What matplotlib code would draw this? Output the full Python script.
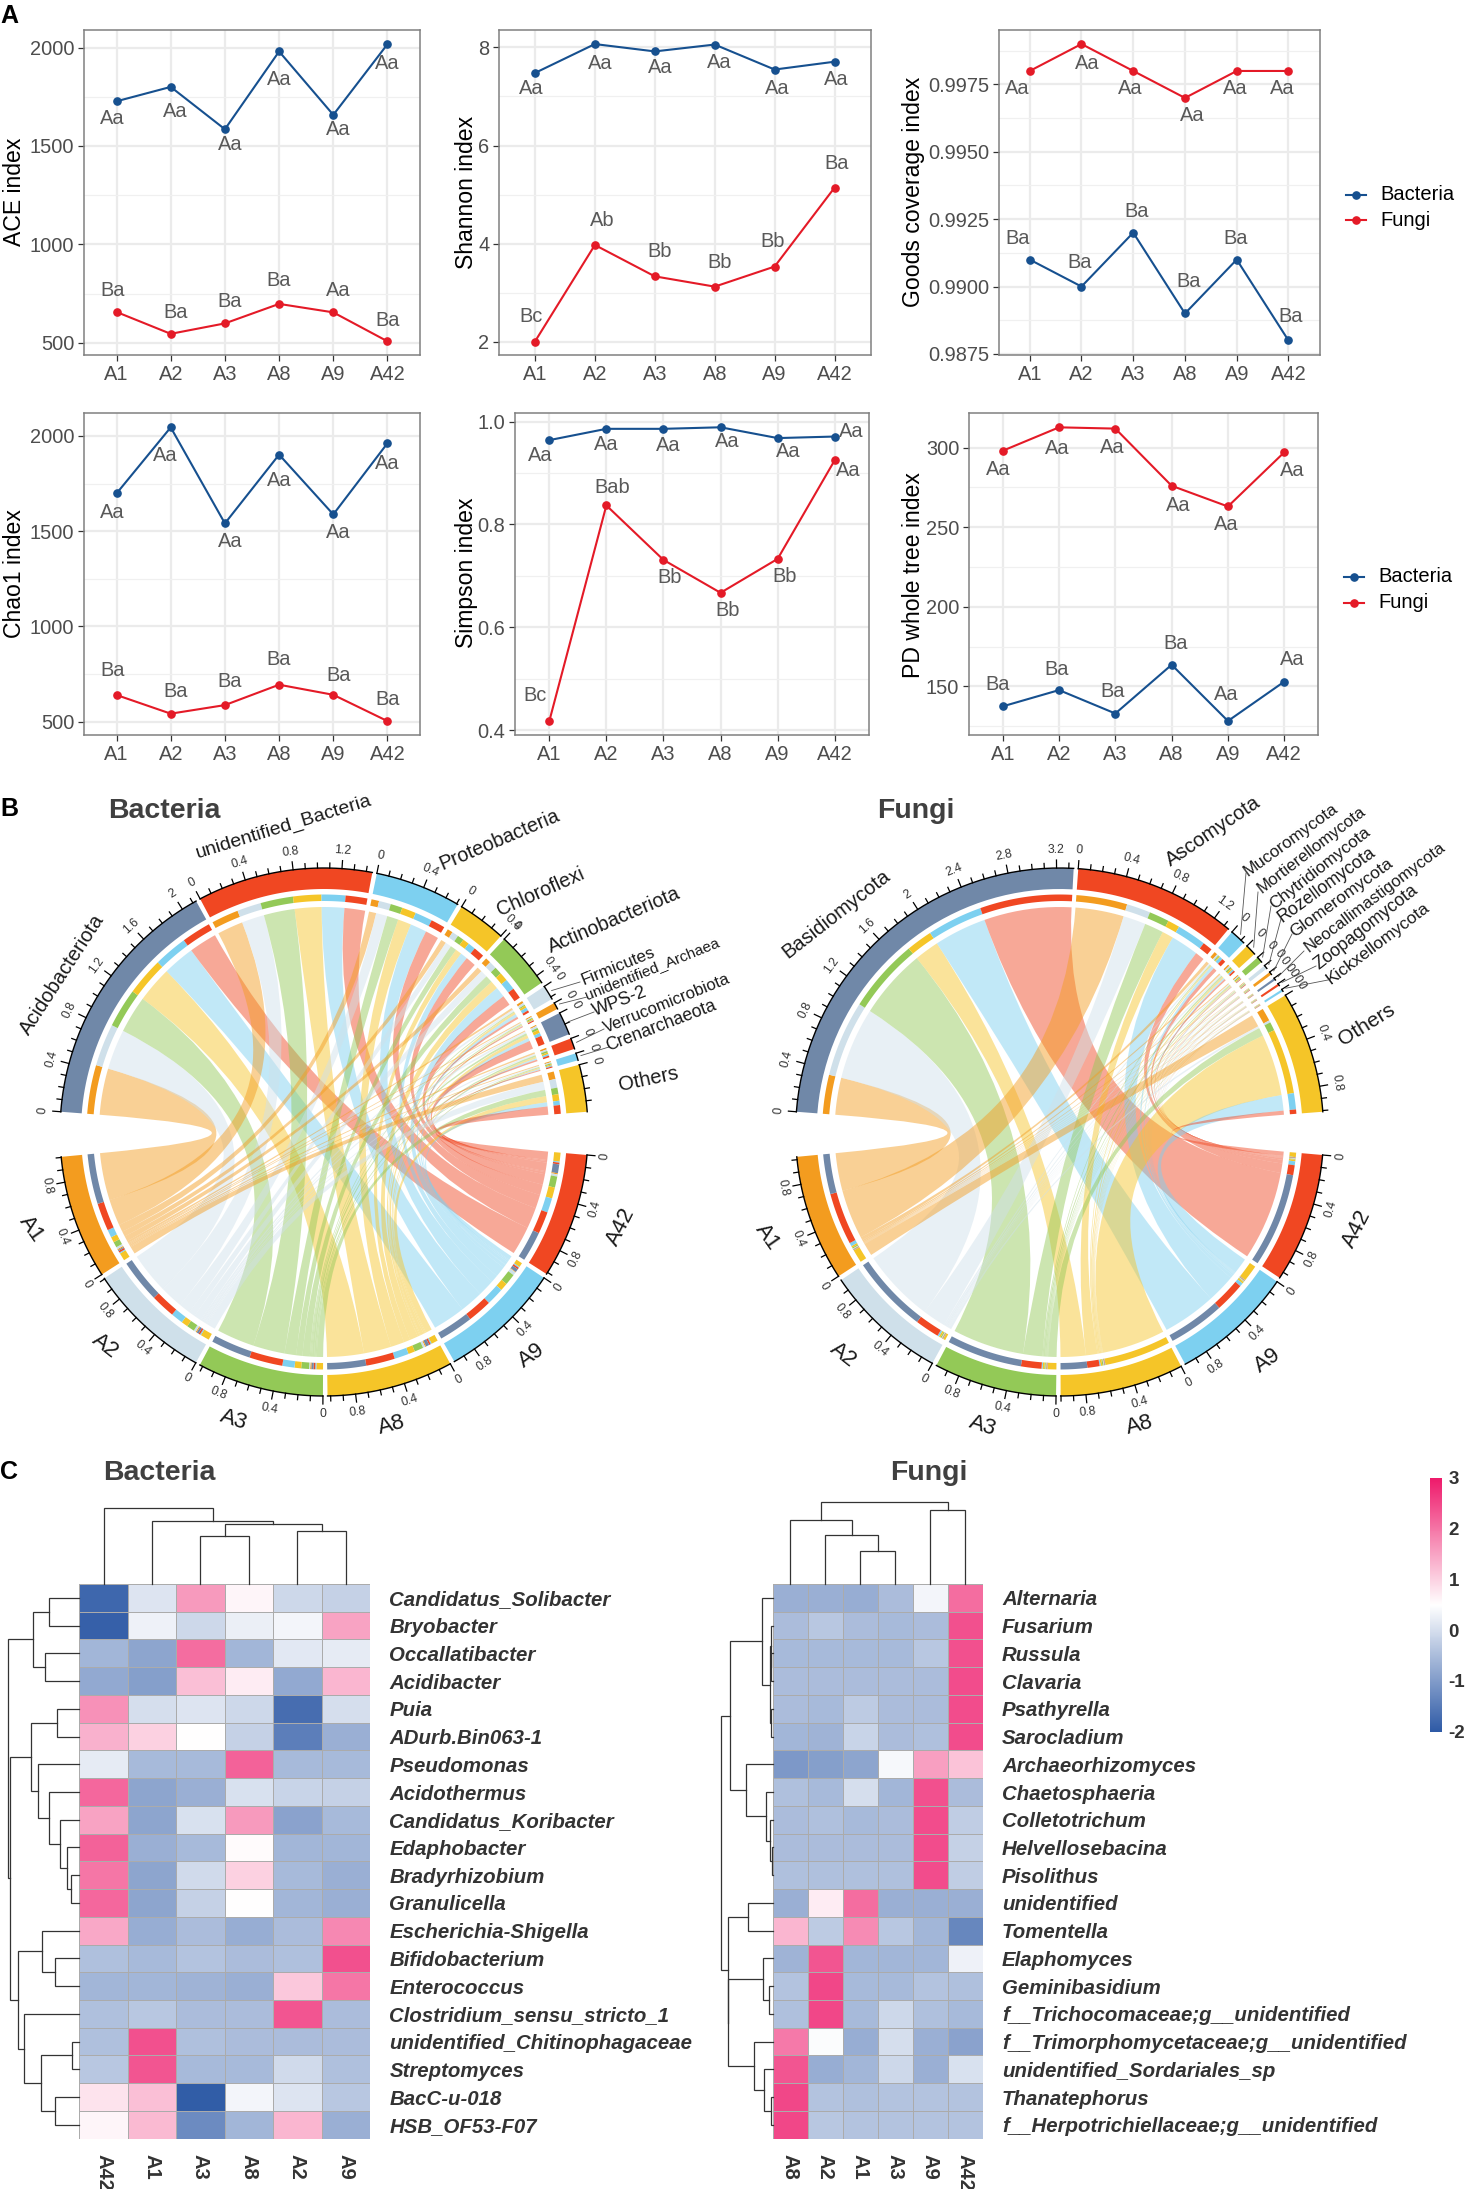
import numpy as np
import matplotlib
matplotlib.use("Agg")
import matplotlib.pyplot as plt
from matplotlib.path import Path
from matplotlib.patches import PathPatch, Polygon
from matplotlib.colors import LinearSegmentedColormap, Normalize
from matplotlib.cm import ScalarMappable

plt.rcParams['font.family'] = ['Liberation Sans', 'DejaVu Sans']
plt.rcParams['axes.unicode_minus'] = False

W, H = 1471, 2189

# ---- panel A data
groups = ['A1', 'A2', 'A3', 'A8', 'A9', 'A42']

ace_bac = [1727, 1800, 1585, 1980, 1658, 2017]
ace_fun = [657, 546, 599, 698, 655, 508]
shannon_bac = [7.48, 8.07, 7.92, 8.06, 7.55, 7.71]
shannon_fun = [2.0, 3.97, 3.33, 3.12, 3.53, 5.14]
goods_bac = [0.991, 0.990, 0.992, 0.989, 0.991, 0.988]
goods_fun = [0.998, 0.999, 0.998, 0.997, 0.998, 0.998]
chao_bac = [1698, 2045, 1541, 1902, 1588, 1962]
chao_fun = [640, 542, 587, 694, 641, 503]
simpson_bac = [0.964, 0.986, 0.986, 0.989, 0.968, 0.971]
simpson_fun = [0.417, 0.837, 0.731, 0.667, 0.733, 0.925]
pd_bac = [137.5, 147.7, 133, 163.6, 128.3, 153]
pd_fun = [298, 312.7, 311.9, 276, 263, 297]

# significance letters
ace_bac_txt = ['Aa'] * 6
ace_fun_txt = ['Ba', 'Ba', 'Ba', 'Ba', 'Aa', 'Ba']
shannon_bac_txt = ['Aa'] * 6
shannon_fun_txt = ['Bc', 'Ab', 'Bb', 'Bb', 'Bb', 'Ba']
goods_bac_txt = ['Ba'] * 6
goods_fun_txt = ['Aa'] * 6
chao_bac_txt = ['Aa'] * 6
chao_fun_txt = ['Ba'] * 6
simpson_bac_txt = ['Aa'] * 6
simpson_fun_txt = ['Bc', 'Bab', 'Bb', 'Bb', 'Bb', 'Aa']
pd_bac_txt = ['Ba', 'Ba', 'Ba', 'Ba', 'Aa', 'Aa']
pd_fun_txt = ['Aa'] * 6

# where each letter sits relative to its point, in pixels (dx, dy down)
ace_bac_off = [(-4, 17), (5, 25), (5, 15), (0, 28), (5, 15), (0, 19)]
ace_fun_off = [(-4, -21), (5, -21), (5, -22), (0, -23), (5, -22), (0, -21)]
shannon_bac_off = [(-4, 16), (5, 19), (5, 16), (5, 18), (3, 19), (2, 18)]
shannon_fun_off = [(-4, -25), (7, -24), (5, -25), (5, -24), (-2, -25), (2, -24)]
goods_bac_off = [(-12, -21), (-2, -24), (3, -21), (4, -32), (-1, -21), (2, -24)]
goods_fun_off = [(-12, 18), (6, 19), (-3, 18), (7, 18), (-1, 18), (-6, 18)]
chao_bac_off = [(-4, 19), (-5, 28), (5, 18), (0, 26), (5, 18), (0, 20)]
chao_fun_off = [(-4, -25), (5, -22), (5, -24), (0, -25), (5, -19), (0, -22)]
simpson_bac_off = [(-9, 15), (0, 16), (5, 17), (7, 14), (11, 13), (17, -5)]
simpson_fun_off = [(-14, -26), (6, -18), (6, 18), (7, 18), (7, 18), (14, 10)]
pd_bac_off = [(-5, -22), (-2, -21), (-3, -22), (4, -21), (-2, -26), (8, -22)]
pd_fun_off = [(-5, 19), (-2, 21), (-3, 19), (7, 20), (-2, 18), (8, 18)]

# ---- panel B data, rows are phyla, columns A1 A2 A3 A8 A9 A42
bac_phyla = ['Acidobacteriota', 'unidentified_Bacteria', 'Proteobacteria', 'Chloroflexi',
             'Actinobacteriota', 'Firmicutes', 'unidentified_Archaea', 'WPS-2',
             'Verrucomicrobiota', 'Crenarchaeota', 'Others']
bac_matrix = [
    [.45, .39, .36, .35, .31, .27],
    [.25, .22, .30, .26, .22, .20],
    [.07, .11, .11, .13, .16, .13],
    [.05, .06, .06, .06, .07, .10],
    [.05, .07, .07, .08, .10, .10],
    [.02, .02, .01, .02, .03, .02],
    [.01, .01, .01, .01, .005, .01],
    [.01, .02, .02, .03, .03, .08],
    [.015, .015, .015, .015, .015, .015],
    [.01, .01, .01, .01, .01, .01],
    [.07, .08, .06, .06, .04, .08],
]
fun_phyla = ['Basidiomycota', 'Ascomycota', 'Mucoromycota', 'Mortierellomycota', 'Chytridiomycota',
             'Rozellomycota', 'Glomeromycota', 'Neocallimastigomycota', 'Zoopagomycota',
             'Kickxellomycota', 'Others']
fun_matrix = [
    [.36, .70, .68, .24, .51, .85],
    [.47, .22, .185, .11, .27, .09],
    [.03, .015, .01, .01, .03, .035],
    [.015, .015, .015, .015, .015, .015],
    [.01, .01, .01, .01, .005, .005],
    [.005, .005, .005, .005, .005, .005],
    [.004, .004, .004, .004, .004, .004],
    [.003, .003, .003, .003, .003, .003],
    [.003, .003, .003, .003, .003, .003],
    [.003, .003, .003, .003, .003, .003],
    [.12, .02, .08, .60, .15, .04],
]
sample_cols = ['#F39C1F', '#CFE0EA', '#93C957', '#F5C528', '#7DD0F0', '#F04722']
bac_phyla_cols = ['#7088A8', '#F04722', '#7DD0F0', '#F5C528', '#93C957', '#CFE0EA',
                  '#F39C1F', '#7088A8', '#F04722', '#7DD0F0', '#F5C528']
fun_phyla_cols = ['#7088A8', '#F04722', '#7DD0F0', '#F5C528', '#93C957', '#CFE0EA',
                  '#F39C1F', '#7088A8', '#F04722', '#7DD0F0', '#F5C528']

# label layout for the chords: x, y, rotation, font size, leader end (or None)
bac_labels = [
    (62, 975, 57, 14.5, None), (284, 827, 17, 14, None), (499, 840, 23, 14.2, None),
    (541, 892, 24, 14.2, None), (614, 920, 23, 14.2, None),
    (618, 966, 22, 12.2, (580, 982)), (652, 969, 22, 11, (587, 997)),
    (620, 1002, 21, 13, (594, 1012)), (667, 1003, 22, 12, (604, 1029)),
    (661, 1026, 21, 12.7, (609, 1047)), (649, 1079, 12, 14.5, None),
]
fun_labels = [
    (836, 914, 38, 14.5, None), (1213, 831, 34, 14.5, None),
    (1291, 840, 36, 12.3, (1246, 873)), (1312, 850, 37.5, 12, (1258, 892)),
    (1320, 868, 38, 12.3, (1271, 906)), (1327, 885, 36, 12.8, (1281, 919)),
    (1341, 898, 36, 12.5, (1292, 934)), (1375, 897, 37, 12, (1304, 951)),
    (1366, 927, 38, 12.7, (1316, 966)), (1378, 943, 37, 12.5, (1328, 980)),
    (1367, 1025, 32, 15, None),
]
bac_sample_labels = [(31, 1229, -55), (105, 1346, -38), (234, 1420, -18),
                     (392, 1425, 15), (532, 1356, 36), (621, 1227, 63)]
fun_sample_labels = [(767, 1237, -55), (843, 1355, -38), (983, 1426, -18),
                     (1140, 1425, 15), (1268, 1361, 36), (1357, 1229, 63)]

# ---- panel C data
bac_cols = ['A42', 'A1', 'A3', 'A8', 'A2', 'A9']
bac_rows = ['Candidatus_Solibacter', 'Bryobacter', 'Occallatibacter', 'Acidibacter', 'Puia',
            'ADurb.Bin063-1', 'Pseudomonas', 'Acidothermus', 'Candidatus_Koribacter', 'Edaphobacter',
            'Bradyrhizobium', 'Granulicella', 'Escherichia-Shigella', 'Bifidobacterium', 'Enterococcus',
            'Clostridium_sensu_stricto_1', 'unidentified_Chitinophagaceae', 'Streptomyces',
            'BacC-u-018', 'HSB_OF53-F07']
bac_heat = [
    [-1.8, 0.1, 1.6, 0.6, -0.1, -0.2],
    [-1.9, 0.3, -0.1, 0.25, 0.35, 1.5],
    [-0.6, -0.85, 2.1, -0.6, 0.15, 0.2],
    [-0.8, -0.95, 1.2, 0.7, -0.8, 1.3],
    [1.7, 0.0, 0.1, -0.1, -1.7, 0.0],
    [1.35, 1.0, 0.5, -0.2, -1.45, -0.7],
    [0.2, -0.55, -0.55, 2.2, -0.55, -0.55],
    [2.15, -0.85, -0.7, 0.05, -0.15, -0.2],
    [1.5, -0.85, 0.05, 1.6, -0.9, -0.55],
    [2.2, -0.7, -0.55, 0.55, -0.6, -0.6],
    [2.0, -0.85, -0.05, 1.0, -0.55, -0.7],
    [2.15, -0.85, -0.2, 0.5, -0.6, -0.7],
    [1.45, -0.75, -0.5, -0.75, -0.5, 1.8],
    [-0.45, -0.55, -0.4, -0.5, -0.45, 2.4],
    [-0.6, -0.6, -0.65, -0.7, 1.1, 2.0],
    [-0.45, -0.35, -0.5, -0.5, 2.35, -0.5],
    [-0.45, 2.4, -0.45, -0.5, -0.5, -0.5],
    [-0.35, 2.35, -0.55, -0.55, -0.05, -0.45],
    [0.8, 1.2, -1.95, 0.35, 0.1, -0.35],
    [0.6, 1.25, -1.25, -0.6, 1.3, -0.7],
]
fun_cols = ['A8', 'A2', 'A1', 'A3', 'A9', 'A42']
fun_rows = ['Alternaria', 'Fusarium', 'Russula', 'Clavaria', 'Psathyrella', 'Sarocladium',
            'Archaeorhizomyces', 'Chaetosphaeria', 'Colletotrichum', 'Helvellosebacina', 'Pisolithus',
            'unidentified', 'Tomentella', 'Elaphomyces', 'Geminibasidium',
            'f__Trichocomaceae;g__unidentified', 'f__Trimorphomycetaceae;g__unidentified',
            'unidentified_Sordariales_sp', 'Thanatephorus', 'f__Herpotrichiellaceae;g__unidentified']
fun_heat = [
    [-0.7, -0.7, -0.75, -0.5, 0.35, 2.1],
    [-0.5, -0.35, -0.5, -0.55, -0.5, 2.4],
    [-0.55, -0.55, -0.55, -0.55, -0.35, 2.4],
    [-0.5, -0.5, -0.5, -0.5, -0.5, 2.45],
    [-0.5, -0.55, -0.3, -0.5, -0.5, 2.45],
    [-0.6, -0.65, -0.15, -0.5, -0.45, 2.45],
    [-1.05, -0.95, -0.85, 0.4, 1.55, 1.15],
    [-0.45, -0.55, 0.0, -0.6, 2.4, -0.5],
    [-0.5, -0.45, -0.55, -0.5, 2.45, -0.25],
    [-0.5, -0.5, -0.5, -0.5, 2.45, -0.2],
    [-0.45, -0.45, -0.45, -0.45, 2.45, -0.25],
    [-0.7, 0.7, 2.1, -0.7, -0.7, -0.7],
    [1.3, -0.3, 1.75, -0.35, -0.6, -1.3],
    [-0.65, 2.35, -0.6, -0.6, -0.6, 0.3],
    [-0.4, 2.5, -0.55, -0.55, -0.4, -0.45],
    [-0.45, 2.5, -0.55, -0.1, -0.45, -0.55],
    [1.95, 0.45, -0.75, 0.0, -0.7, -0.9],
    [2.35, -0.75, -0.6, -0.1, -0.7, 0.05],
    [2.5, -0.4, -0.45, -0.4, -0.4, -0.4],
    [2.5, -0.35, -0.4, -0.4, -0.4, -0.4],
]

# dendrograms: (height, left, right), an int is a leaf
bac_col_tree = (76.4, 0, (63.2, 1, (59.9, (47.6, 2, 3), (52.8, 4, 5))))
bac_row_tree = (71.6,
                (46.4, (30.3, 0, 1), (34.9, 2, 3)),
                (69.3,
                 (48.7, (22, 4, 5), (41.8, 6, (30.3, 7, (19.7, 8, (12.9, 9, (8.3, 10, 11)))))),
                 (61,
                  (37.2, 12, (24.3, 13, 14)),
                  (55.6, 15, (38.1, (7.3, 16, 17), (24.3, 18, 19))))))
fun_col_tree = (82.5, (63.7, 0, (49, 1, (33, 2, 3))), (73.6, 4, 5))
fun_row_tree = (51.7,
                (42.6,
                 (11.5, 0, (3.5, (2.5, 1, (1.8, 2, 3)), (2.4, 4, 5))),
                 (27.3, 6, (6.7, 7, (2.9, 8, (1.5, 9, 10))))),
                (45.5,
                 (25.3, 11, 12),
                 (45, (10, 13, (3.8, 14, 15)), (18.7, 16, (8.6, 17, (2, 18, 19))))))

BLUE = '#16508F'
RED = '#E41A27'
GREY = '#4D4D4D'

fig = plt.figure(figsize=(W / 100, H / 100), dpi=100)


def axes_px(x0, y0, x1, y1, **kw):
    # y0 is the top edge, measured from the top of the picture
    return fig.add_axes([x0 / W, 1 - y1 / H, (x1 - x0) / W, (y1 - y0) / H], **kw)


# overlay in picture pixels, for the chords and loose text
ov = axes_px(0, 0, W, H)
ov.set_xlim(0, W)
ov.set_ylim(H, 0)
ov.axis('off')
ov.patch.set_alpha(0)


def line_panel(box, bac, fun, bac_txt, fun_txt, bac_off, fun_off, ylim, ticks, minor, fmt, ylabel, label_xy):
    ax = axes_px(*box)
    x = np.arange(6)
    ax.set_xlim(-0.6, 5.6)
    ax.set_ylim(*ylim)
    ax.set_yticks(ticks)
    ax.set_yticks(minor, minor=True)
    ax.yaxis.set_major_formatter(fmt)
    ax.set_xticks(x)
    ax.set_xticklabels(groups)
    ax.grid(True, which='major', color='#EBEBEB', lw=1.6)
    ax.grid(True, which='minor', axis='y', color='#F0F0F0', lw=0.9)
    ax.set_axisbelow(True)
    ax.tick_params(axis='both', which='major', labelsize=14.4, labelcolor=GREY, color='#333333',
                   length=4, width=0.9, pad=3)
    ax.tick_params(axis='y', which='minor', length=0)
    for s in ax.spines.values():
        s.set_color('#808080')
        s.set_linewidth(1.1)
    ax.plot(x, bac, color=BLUE, lw=1.5, marker='o', ms=5.2, label='Bacteria')
    ax.plot(x, fun, color=RED, lw=1.5, marker='o', ms=5.2, label='Fungi')
    for vals, txt, off in ((bac, bac_txt, bac_off), (fun, fun_txt, fun_off)):
        for i in range(6):
            ax.annotate(txt[i], (i, vals[i]), xytext=(off[i][0] * 0.72, -off[i][1] * 0.72),
                        textcoords='offset points', ha='center', va='center',
                        fontsize=14.4, color='#595959', annotation_clip=False)
    ov.text(label_xy[0], label_xy[1], ylabel, rotation=90, ha='center', va='center',
            fontsize=16.6, color='black')
    return ax


f_int = plt.FuncFormatter(lambda v, p: '%d' % v)
line_panel((84, 30, 420, 355), ace_bac, ace_fun, ace_bac_txt, ace_fun_txt, ace_bac_off, ace_fun_off,
           (438.5, 2089), [500, 1000, 1500, 2000], [750, 1250, 1750], f_int, 'ACE index', (15, 192))
line_panel((499, 30, 870.5, 355), shannon_bac, shannon_fun, shannon_bac_txt, shannon_fun_txt,
           shannon_bac_off, shannon_fun_off,
           (1.725, 8.357), [2, 4, 6, 8], [3, 5, 7], f_int, 'Shannon index', (467, 192))
line_panel((998.7, 30, 1319.5, 355), goods_bac, goods_fun, goods_bac_txt, goods_fun_txt,
           goods_bac_off, goods_fun_off,
           (0.98746, 0.99952), [0.9875, 0.99, 0.9925, 0.995, 0.9975],
           [0.98875, 0.99125, 0.99375, 0.99625, 0.99875],
           plt.FuncFormatter(lambda v, p: '%.4f' % v), 'Goods coverage index', (914, 192))
line_panel((84, 413, 420, 735), chao_bac, chao_fun, chao_bac_txt, chao_fun_txt, chao_bac_off, chao_fun_off,
           (430, 2120.5), [500, 1000, 1500, 2000], [750, 1250, 1750], f_int, 'Chao1 index', (15, 574))
line_panel((515, 413, 869, 735), simpson_bac, simpson_fun, simpson_bac_txt, simpson_fun_txt,
           simpson_bac_off, simpson_fun_off,
           (0.3903, 1.0168), [0.4, 0.6, 0.8, 1.0], [0.5, 0.7, 0.9],
           plt.FuncFormatter(lambda v, p: '%.1f' % v), 'Simpson index', (467, 573))
line_panel((969, 413, 1318, 735), pd_bac, pd_fun, pd_bac_txt, pd_fun_txt, pd_bac_off, pd_fun_off,
           (119.5, 321.7), [150, 200, 250, 300], [125, 175, 225, 275], f_int, 'PD whole tree index', (914, 575))

# hand drawn legends beside the right hand panels
for ly, lx in ((194.6, 1356), (576.7, 1354.5)):
    for k, (name, col) in enumerate((('Bacteria', BLUE), ('Fungi', RED))):
        yy = ly + k * 25.8
        ov.plot([lx - 10, lx + 10], [yy, yy], color=col, lw=1.5, marker='', zorder=3)
        ov.plot([lx], [yy], color=col, marker='o', ms=5.2, zorder=3)
        ov.text(lx + 24, yy, name, fontsize=14.5, va='center', ha='left', color='black')


def pol(cx, cy, r, a):
    t = np.radians(a)
    return cx + r * np.cos(t), cy - r * np.sin(t)


def ring(cx, cy, r0, r1, a0, a1, col, z=3):
    ang = np.linspace(a0, a1, 40)
    xo, yo = pol(cx, cy, r1, ang)
    xi, yi = pol(cx, cy, r0, ang[::-1])
    ov.add_patch(Polygon(np.c_[np.r_[xo, xi], np.r_[yo, yi]], closed=True, fc=col, ec='none', zorder=z))


def sector_ticks(cx, cy, R, a0, scale, total):
    segs = np.linspace(a0, a0 - total * scale, 40)
    ox, oy = pol(cx, cy, R, segs)
    ov.plot(ox, oy, color='black', lw=1.0, zorder=4)
    n = int(total / 0.1 + 1e-6)
    for k in range(n + 1):
        a = a0 - k * 0.1 * scale
        big = k % 4 == 0
        x0, y0 = pol(cx, cy, R, a)
        x1, y1 = pol(cx, cy, R + (8 if big else 5), a)
        ov.plot([x0, x1], [y0, y1], color='black', lw=0.9, zorder=4)
        if big:
            lx, ly = pol(cx, cy, R + 18, a)
            rot = a - 90 if a > 0 else a + 90
            ov.text(lx, ly, '%g' % (k * 0.1), fontsize=8.8, color='#333333', rotation=rot,
                    ha='center', va='center', zorder=5)


def chord(cx, cy, matrix, phyla, phyla_cols, labels, sample_labels, R=264):
    m = np.array(matrix)
    ph_tot = m.sum(axis=1)
    sa_tot = m.sum(axis=0)
    gap = 1.0
    top0, top1 = 175.6, 4.4
    bot0, bot1 = -5.0, -174.6
    s_top = (top0 - top1 - gap * (len(phyla) - 1)) / ph_tot.sum()
    s_bot = (bot0 - bot1 - gap * 5) / sa_tot.sum()

    # phylum sectors run clockwise, sample slots A1 .. A42 inside each
    ph_pos = np.zeros(m.shape + (2,))
    a = top0
    for i, name in enumerate(phyla):
        ring(cx, cy, R - 21, R, a, a - ph_tot[i] * s_top, phyla_cols[i])
        sector_ticks(cx, cy, R, a, s_top, ph_tot[i])
        b = a
        for j in range(6):
            ph_pos[i, j] = b, b - m[i, j] * s_top
            ring(cx, cy, 231, 237.5, b, ph_pos[i, j, 1], sample_cols[j])
            b = ph_pos[i, j, 1]
        a -= ph_tot[i] * s_top + gap

    # sample sectors go A42 .. A1 clockwise, phyla reversed inside each
    sa_pos = np.zeros(m.shape + (2,))
    a = bot0
    for j in range(5, -1, -1):
        ring(cx, cy, R - 21, R, a, a - sa_tot[j] * s_bot, sample_cols[j])
        sector_ticks(cx, cy, R, a, s_bot, sa_tot[j])
        b = a
        for i in range(len(phyla) - 1, -1, -1):
            sa_pos[i, j] = b, b - m[i, j] * s_bot
            ring(cx, cy, 231, 237.5, b, sa_pos[i, j, 1], phyla_cols[i])
            b = sa_pos[i, j, 1]
        a -= sa_tot[j] * s_bot + gap

    rc = 225
    for i in range(len(phyla)):
        for j in range(6):
            arc1 = np.linspace(ph_pos[i, j, 0], ph_pos[i, j, 1], 12)
            arc2 = np.linspace(sa_pos[i, j, 0], sa_pos[i, j, 1], 12)
            p1 = np.c_[pol(cx, cy, rc, arc1)]
            p2 = np.c_[pol(cx, cy, rc, arc2)]
            verts = list(p1) + [(cx, cy)] + list(p2) + [(cx, cy), p1[0]]
            codes = [Path.MOVETO] + [Path.LINETO] * 11 + [Path.CURVE3] + [Path.CURVE3] + \
                    [Path.LINETO] * 11 + [Path.CURVE3, Path.CURVE3]
            ov.add_patch(PathPatch(Path(verts, codes), fc=sample_cols[j], ec='none', alpha=0.47, zorder=2))

    for i, (x, y, rot, fs, lead) in enumerate(labels):
        ov.text(x, y, phyla[i], rotation=rot, fontsize=fs, ha='center', va='center',
                rotation_mode='anchor', color='#1A1A1A', zorder=6)
        if lead is not None:
            mid = ph_pos[i, 0, 0] - ph_tot[i] * s_top / 2
            x0, y0 = pol(cx, cy, R + 4, mid)
            ov.plot([x0, lead[0]], [y0, lead[1]], color='#555555', lw=0.6, zorder=4)
    for j, (x, y, rot) in enumerate(sample_labels):
        ov.text(x, y, groups[j], rotation=rot, fontsize=16, ha='center', va='center',
                rotation_mode='anchor', color='#1A1A1A', zorder=6)


chord(324, 1132, bac_matrix, bac_phyla, bac_phyla_cols, bac_labels, bac_sample_labels)
chord(1059.6, 1132, fun_matrix, fun_phyla, fun_phyla_cols, fun_labels, fun_sample_labels)

# ---- heatmaps
cmap = LinearSegmentedColormap.from_list('hm', ['#2E5AA6', '#FFFFFF', '#EE1A6B'])
norm = Normalize(-2, 3)


def draw_tree(ax, node, vertical):
    # vertical=True draws the column tree, leaves at 0.5, 1.5, ...
    if isinstance(node, int):
        return node + 0.5, 0
    h, left, right = node
    p1, h1 = draw_tree(ax, left, vertical)
    p2, h2 = draw_tree(ax, right, vertical)
    a = [p1, p1, p2, p2]
    b = [h1, h, h, h2]
    if vertical:
        ax.plot(a, b, color='#333333', lw=0.9, solid_joinstyle='miter', clip_on=False)
    else:
        ax.plot(b, a, color='#333333', lw=0.9, solid_joinstyle='miter', clip_on=False)
    return (p1 + p2) / 2, h


def heat_panel(x0, x1, values, rows, cols, col_tree, row_tree, left_edge):
    y0, y1 = 1584, 2138.7
    ax = axes_px(x0, y0, x1, y1)
    ax.pcolormesh(np.array(values), cmap=cmap, norm=norm, edgecolors='#ABABAB', linewidth=0.7)
    ax.set_ylim(20, 0)
    ax.set_xlim(0, 6)
    ax.yaxis.tick_right()
    ax.set_yticks(np.arange(20) + 0.5)
    ax.set_yticklabels(rows, fontsize=14.7, fontweight='bold', fontstyle='italic', color='#333333')
    ax.set_xticks(np.arange(6) + 0.5)
    ax.set_xticklabels(cols, fontsize=14.5, fontweight='bold', color='#333333', rotation=270)
    ax.tick_params(axis='y', length=0, pad=14)
    ax.tick_params(axis='x', length=0, pad=11)
    for s in ax.spines.values():
        s.set_visible(False)

    top = axes_px(x0, y0 - 90, x1, y0)
    top.set_xlim(0, 6)
    top.set_ylim(0, 90)
    top.axis('off')
    draw_tree(top, col_tree, True)

    side = axes_px(left_edge, y0, x0, y1)
    side.set_xlim(x0 - left_edge, 0)
    side.set_ylim(20, 0)
    side.axis('off')
    draw_tree(side, row_tree, False)


heat_panel(79.4, 370, bac_heat, bac_rows, bac_cols, bac_col_tree, bac_row_tree, 0)
heat_panel(773, 982.5, fun_heat, fun_rows, fun_cols, fun_col_tree, fun_row_tree, 720)

cax = axes_px(1430, 1478, 1441.7, 1731.6)
cb = fig.colorbar(ScalarMappable(norm=norm, cmap=cmap), cax=cax, ticks=[-2, -1, 0, 1, 2, 3])
cb.outline.set_visible(False)
cb.ax.tick_params(length=0, pad=5)
for t in cb.ax.get_yticklabels():
    t.set_fontsize(13.5)
    t.set_fontweight('bold')
    t.set_color('#333333')

# ---- panel letters and titles
ov.text(0, 16, 'A', fontsize=18, fontweight='bold', ha='left', va='center')
ov.text(0, 809, 'B', fontsize=18, fontweight='bold', ha='left', va='center')
ov.text(0, 1472, 'C', fontsize=18, fontweight='bold', ha='left', va='center')
ov.text(164.5, 811, 'Bacteria', fontsize=20.5, fontweight='bold', color='#404040', ha='center', va='center')
ov.text(916, 811, 'Fungi', fontsize=20.5, fontweight='bold', color='#404040', ha='center', va='center')
ov.text(159.5, 1473, 'Bacteria', fontsize=20.5, fontweight='bold', color='#404040', ha='center', va='center')
ov.text(929, 1473, 'Fungi', fontsize=20.5, fontweight='bold', color='#404040', ha='center', va='center')

fig.savefig('out.png', dpi=100)
